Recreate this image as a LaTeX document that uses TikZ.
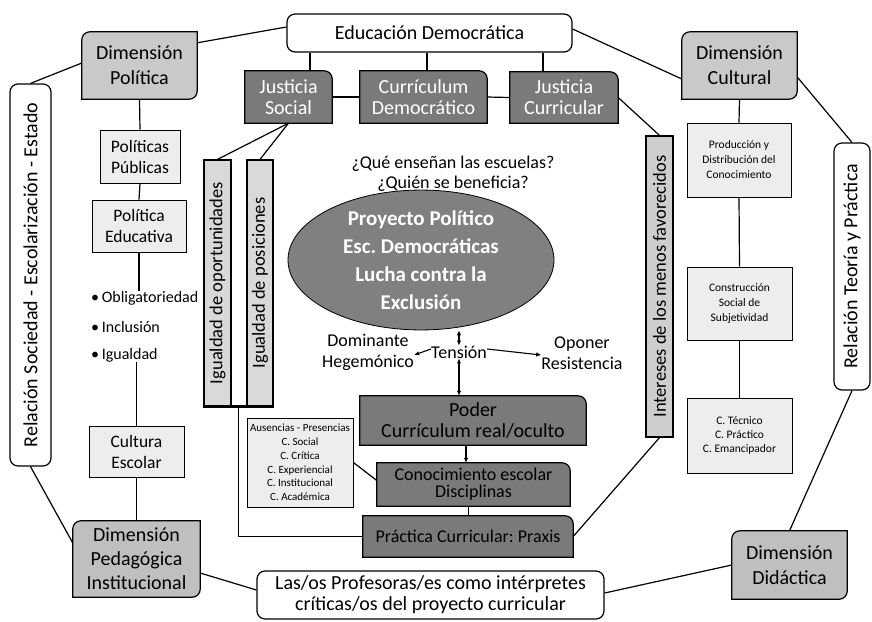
\documentclass[tikz,border=0pt]{standalone}
\usepackage{fontspec}
\setmainfont{Carlito}
\usetikzlibrary{shapes.geometric,arrows.meta,backgrounds,calc}
\frenchspacing

\definecolor{darkfill}{gray}{0.48}
\definecolor{dimfill}{gray}{0.79}
\definecolor{dimfillb}{gray}{0.75}
\definecolor{lightfill}{gray}{0.93}
\definecolor{igfill}{gray}{0.85}
\definecolor{ovalfill}{gray}{0.5}

\def\rad{8pt}
% boxes with two rounded corners (top left, bottom right)
\newcommand{\diagbox}[2]{\filldraw[line width=1.2pt,fill=#2] (#1.north) -- (#1.north east) -- ([yshift=\rad]#1.south east) arc[start angle=0,end angle=-90,radius=\rad] -- (#1.south west) -- ([yshift=-\rad]#1.north west) arc[start angle=180,end angle=90,radius=\rad] -- cycle;}
% boxes with the top right corner rounded
\newcommand{\cornerbox}[2]{\filldraw[line width=1.2pt,fill=#2] (#1.south west) -- (#1.north west) -- ([xshift=-\rad]#1.north east) arc[start angle=90,end angle=0,radius=\rad] -- (#1.south east) -- cycle;}

\begin{document}
\begin{tikzpicture}[x=1pt,y=-1pt,
	line/.style={line width=1.2pt},
	arr/.style={line width=1.1pt,-{Latex[length=5pt,width=4.5pt]}},
	dblarr/.style={line width=1.1pt,{Latex[length=5pt,width=4.5pt]}-{Latex[length=5pt,width=4.5pt]}},
	txt/.style={inner sep=0pt,align=center},
	big/.style={txt,font=\fontsize{20}{21}\selectfont},
	dim/.style={txt,font=\fontsize{20}{25}\selectfont},
	mid/.style={txt,font=\fontsize{17.5}{21}\selectfont},
	bul/.style={txt,anchor=west,font=\fontsize{16}{19}\selectfont},
	small/.style={txt,font=\fontsize{11.5}{15}\selectfont},
	whitebox/.style={draw,line width=1.2pt,fill=white,rounded corners=8pt},
	lightbox/.style={draw,line width=0.8pt,fill=lightfill}
	]
	\useasboundingbox (0,0) rectangle (872,621);
	
	\node[big,whitebox,minimum width=285pt,minimum height=38pt] (edu) at (429.5,33) {Educación Democrática};
	\node[dim,minimum width=115pt,minimum height=67pt] (dpol) at (139.5,65.5) {Dimensión\\Política};
	\node[dim,minimum width=115pt,minimum height=67pt] (dcul) at (739.5,65.5) {Dimensión\\Cultural};
	\node[dim,minimum width=127pt,minimum height=76pt,font=\fontsize{20}{24}\selectfont] (dped) at (136.5,559) {Dimensión\\Pedagógica\\Institucional};
	\node[dim,minimum width=115pt,minimum height=68pt] (ddid) at (789.5,565) {Dimensión\\Didáctica};
	
	\node[big,text=white,minimum width=87pt,minimum height=52pt] (jsoc) at (288.5,97) {Justicia\\Social};
	\node[big,text=white,minimum width=127pt,minimum height=52pt] (cdem) at (423.5,97) {Currículum\\Democrático};
	\node[big,text=white,minimum width=108pt,minimum height=51pt] (jcur) at (564,97.5) {Justicia\\Curricular};
	
	\node[big,whitebox,minimum width=41pt,minimum height=382pt] (rsoc) at (30.5,275) {\rotatebox{90}{Relación Sociedad - Escolarización - Estado}};
	\node[big,whitebox,minimum width=36pt,minimum height=247pt] (rteo) at (852,266.5) {\rotatebox{90}{Relación Teoría y Práctica}};
	\node[big,whitebox,minimum width=347pt,minimum height=48pt] (lasos) at (430.5,595) {Las/os Profesoras/es como intérpretes\\críticas/os del proyecto curricular};
	
	% political column
	\node[mid,lightbox,minimum width=80pt,minimum height=53pt] (ppub) at (140,156.5) {Políticas\\Públicas};
	\node[mid,lightbox,minimum width=94pt,minimum height=52pt] (pedu) at (139,226) {Política\\Educativa};
	\node[bul] (obli) at (91,298) {•\,Obligatoriedad};
	\node[bul] (incl) at (91,327) {•\,Inclusión};
	\node[bul] (igua) at (91,355) {•\,Igualdad};
	\node[mid,lightbox,minimum width=95pt,minimum height=51pt] (cesc) at (136.5,451.5) {Cultura\\Escolar};
	
	% cultural column
	\node[small,lightbox,minimum width=104pt,minimum height=74pt] (prod) at (739,160) {Producción y\\Distribución del\\Conocimiento};
	\node[small,lightbox,minimum width=105pt,minimum height=73pt] (cons) at (739.5,303.5) {Construcción\\Social de\\Subjetividad};
	\node[small,lightbox,minimum width=105pt,minimum height=75pt,font=\fontsize{11.5}{14}\selectfont] (ctec) at (739.5,435.5) {C. Técnico\\C. Práctico\\C. Emancipador};
	
	% vertical bars
	\node[txt,draw,line width=1.2pt,fill=igfill,minimum width=27pt,minimum height=246pt,font=\fontsize{18.5}{20}\selectfont] (igop) at (217.5,283) {\rotatebox{90}{Igualdad de oportunidades}};
	\node[txt,draw,line width=1.2pt,fill=igfill,minimum width=26pt,minimum height=246pt,font=\fontsize{18.5}{20}\selectfont] (igpo) at (260,283) {\rotatebox{90}{Igualdad de posiciones}};
	\node[txt,draw,line width=1.2pt,fill=igfill!95!black,minimum width=27pt,minimum height=301pt,font=\fontsize{18.5}{20}\selectfont] (inte) at (659.5,286.5) {\rotatebox{90}{Intereses de los menos favorecidos}};
	
	% centre
	\node[txt,font=\fontsize{18}{20}\selectfont] (preg) at (453,174) {¿Qué enseñan las escuelas?\\¿Quién se beneficia?};
	\node[ellipse,draw,line width=0.8pt,fill=ovalfill,text=white,inner sep=0pt,minimum width=266pt,minimum height=126pt,align=center,font=\fontsize{21}{28}\bfseries\selectfont] (proy) at (421,260) {Proyecto Político\\Esc. Democráticas\\Lucha contra la\\Exclusión};
	\node[txt,font=\fontsize{18}{20}\selectfont] (tens) at (459,352) {Tensión};
	\node[txt,font=\fontsize{18}{21}\selectfont] (domi) at (368,352) {Dominante\\Hegemónico};
	\node[txt,font=\fontsize{18}{21}\selectfont] (opon) at (582,353) {Oponer\\Resistencia};
	
	\node[big,minimum width=226pt,minimum height=49pt] (poder) at (473,420.5) {Poder\\Currículum real/oculto};
	\node[txt,font=\fontsize{18}{17}\selectfont,minimum width=193pt,minimum height=43pt] (cono) at (473.5,484.5) {Conocimiento escolar\\Disciplinas};
	\node[txt,font=\fontsize{18}{20}\selectfont,minimum width=210pt,minimum height=41pt] (prax) at (468,536.5) {Práctica Curricular: Praxis};
	\node[txt,lightbox,font=\fontsize{11}{13.8}\selectfont,minimum width=106pt,minimum height=89pt] (aus) at (300,462.5) {Ausencias - Presencias\\C. Social\\C. Crítica\\C. Experiencial\\C. Institucional\\C. Académica};
	
	\begin{pgfonlayer}{background}
		\diagbox{dpol}{dimfill}
		\diagbox{dcul}{dimfill}
		\diagbox{dped}{dimfillb}
		\diagbox{ddid}{dimfillb}
		\cornerbox{jsoc}{darkfill}
		\cornerbox{cdem}{darkfill}
		\cornerbox{jcur}{darkfill}
		\cornerbox{poder}{darkfill}
		\cornerbox{cono}{darkfill}
		\cornerbox{prax}{darkfill}
	\end{pgfonlayer}
	
	% outer ring
	\draw[line] ([yshift=-11pt]dpol.north east) -- ([yshift=6pt]edu.west);
	\draw[line] ([yshift=4pt]edu.east) -- ([yshift=-13.5pt]dcul.west);
	\draw[line] ([yshift=-11.5pt]dcul.east) -- (rteo.north);
	\draw[line] (rteo.south) -- (ddid.north);
	\draw[line] (ddid.west) -- ([yshift=2pt]lasos.east);
	\draw[line] ([yshift=-14pt]dped.east) -- ([yshift=5pt]lasos.west);
	\draw[line] (rsoc.south) -- ([yshift=16pt]dped.west);
	\draw[line] ([yshift=2.5pt]dpol.west) -- (rsoc.north);
	
	% top row
	\draw[line] ([xshift=21.5pt]jsoc.north) -- ([xshift=21.5pt]jsoc.north |- edu.south);
	\draw[line] ([xshift=3.5pt]cdem.north) -- ([xshift=3.5pt]cdem.north |- edu.south);
	\draw[line] ([xshift=-21pt]jcur.north) -- ([xshift=-21pt]jcur.north |- edu.south);
	\draw[line] (jsoc.east) -- (cdem.west);
	\draw[line] (cdem.east) -- (jcur.west);
	\draw[line] (jsoc.south) -- (igop.north);
	\draw[line] (jsoc.south) -- (igpo.north);
	\draw[line] (jcur.east) -- (inte.north);
	\draw[line] (inte.south) -- (prax.east);
	
	% columns
	\draw[line] (dpol.south) -- (ppub.north);
	\draw[line] (ppub.south) -- (pedu.north);
	\draw[line] (pedu.south) -- (pedu.south |- obli.north);
	\draw[line] (cesc.north |- igua.south) -- (cesc.north);
	\draw[line] (cesc.south) -- (dped.north);
	\draw[line] (dcul.south) -- (prod.north);
	\draw[line] (prod.south) -- (cons.north);
	\draw[line] (cons.south) -- (ctec.north);
	
	% equality bars
	\draw[line width=3pt] (igop.south west) -- (igpo.south east);
	\coordinate (igbase) at ($(igop.south)!0.5!(igpo.south)$);
	\draw[line] (igbase) |- (prax.west);
	\draw[line] (aus.east) -- ([yshift=4pt]cono.west);
	
	% centre arrows
	\draw[dblarr] (tens.north) -- (tens.north |- proy.south);
	\draw[dblarr] (tens.south) -- (tens.south |- poder.north);
	\draw[arr] ([yshift=3pt]tens.west) -- ([yshift=-3pt]domi.east);
	\draw[arr] ([yshift=3pt]tens.east) -- ([yshift=-2pt]opon.west);
	\draw[arr] ([xshift=-7pt]poder.south) -- ([xshift=-7pt]poder.south |- cono.north);
	\draw[line] ([xshift=-5pt]cono.south) -- ([xshift=-5pt]cono.south |- prax.north);
\end{tikzpicture}
\end{document}
